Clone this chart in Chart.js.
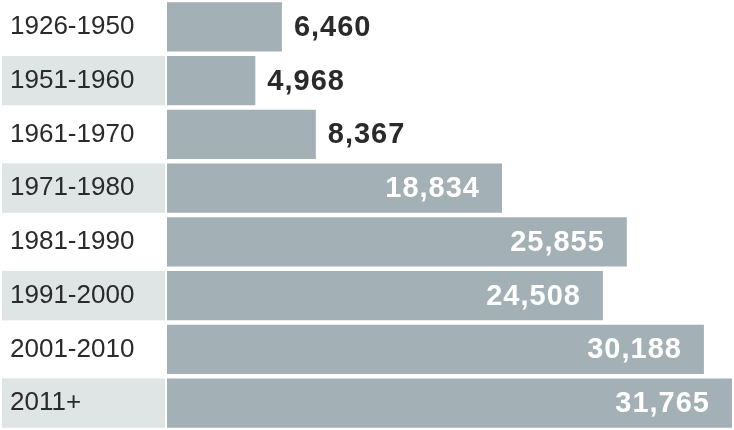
<!DOCTYPE html>
<html>
<head>
<meta charset="utf-8">
<script src="https://cdn.jsdelivr.net/npm/chart.js@4"></script>
<style>
  html, body { margin: 0; padding: 0; background: #fff; }
  #wrap { width: 734px; height: 430px; position: relative; }
</style>
</head>
<body>
<div id="wrap"><canvas id="barChart"></canvas></div>
<script>
const periods = ['1926-1950', '1951-1960', '1961-1970', '1971-1980', '1981-1990', '1991-2000', '2001-2010', '2011+'];
const counts = [6460, 4968, 8367, 18834, 25855, 24508, 30188, 31765];
const axisMax = 31880;

// shaded bands behind every other label (drawn before the axis labels)
const rowBands = {
    id: 'rowBands',
    beforeDraw(chart) {
        const ctx = chart.ctx;
        const meta = chart.getDatasetMeta(0);
        ctx.save();
        ctx.fillStyle = '#dfe4e4';
        meta.data.forEach((bar, i) => {
            if (i % 2 === 1) {
                const h = bar.height;
                ctx.fillRect(2, bar.y - h / 2, chart.chartArea.left - 4, h);
            }
        });
        ctx.restore();
    }
};

// value labels: dark outside short bars, white inside long ones
const valueLabels = {
    id: 'valueLabels',
    afterDatasetsDraw(chart) {
        const ctx = chart.ctx;
        const meta = chart.getDatasetMeta(0);
        ctx.save();
        ctx.font = 'bold 29px "Liberation Sans", Arial, sans-serif';
        ctx.letterSpacing = '1px';
        ctx.textBaseline = 'middle';
        meta.data.forEach((bar, i) => {
            const text = counts[i].toLocaleString('en-US');
            const w = bar.x - bar.base;
            if (w > 250) {
                ctx.fillStyle = '#ffffff';
                ctx.textAlign = 'right';
                ctx.fillText(text, bar.x - 22, bar.y + 1);
            } else {
                ctx.fillStyle = '#2a2a2a';
                ctx.textAlign = 'left';
                ctx.fillText(text, bar.x + 12, bar.y + 1);
            }
        });
        ctx.restore();
    }
};

new Chart(document.getElementById('barChart').getContext('2d'), {
    type: 'bar',
    data: {
        labels: periods,
        datasets: [{
            data: counts,
            backgroundColor: '#a3b0b6',
            borderWidth: 0,
            categoryPercentage: 1,
            barPercentage: 0.92
        }]
    },
    options: {
        indexAxis: 'y',
        responsive: true,
        maintainAspectRatio: false,
        animation: false,
        layout: { padding: { left: 10, right: 0, top: 0, bottom: 0 } },
        plugins: {
            legend: { display: false },
            tooltip: { enabled: false }
        },
        scales: {
            x: {
                display: false,
                min: 0,
                max: axisMax
            },
            y: {
                grid: { display: false },
                border: { display: false },
                ticks: {
                    autoSkip: false,
                    crossAlign: 'far',
                    color: '#2a2a2a',
                    font: { family: '"Liberation Sans", Arial, sans-serif', size: 26 }
                },
                afterFit(scale) {
                    scale.width = 157;
                    scale.paddingTop = 0;
                    scale.paddingBottom = 0;
                }
            }
        }
    },
    plugins: [rowBands, valueLabels]
});
</script>
</body>
</html>
